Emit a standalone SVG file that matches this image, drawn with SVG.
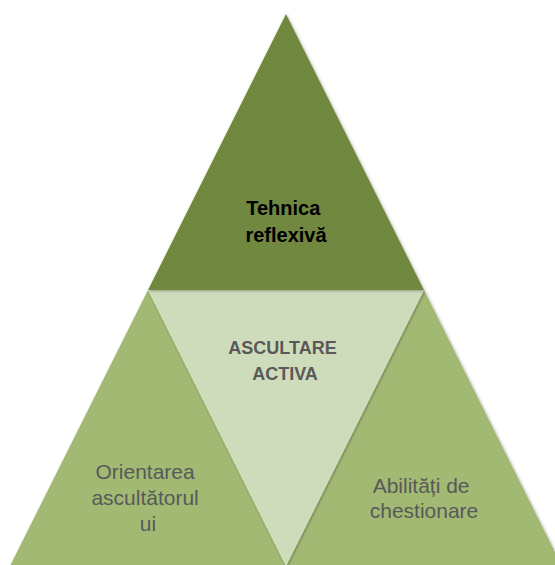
<svg xmlns="http://www.w3.org/2000/svg" width="555" height="565" viewBox="0 0 555 565">
  <defs>
    <filter id="soft" x="-10%" y="-10%" width="120%" height="120%">
      <feDropShadow dx="1" dy="1" stdDeviation="1.5" flood-color="#000" flood-opacity="0.3"/>
    </filter>
  </defs>
  <style>
    .tri { filter: url(#soft); }
    .top { fill: #71883F; }
    .mid { fill: #CFDCBC; }
    .side { fill: #A1B973; }
    .lbl { font-family: "Liberation Sans", Arial, sans-serif; text-anchor: middle; }
    .bold { font-weight: bold; }
  </style>
  <rect width="555" height="565" fill="#ffffff"/>

  <!-- outer corner pieces -->
  <g id="node-orientarea">
    <polygon class="tri side" points="148,290 10,566 286,566"/>
    <text class="lbl" font-size="21" fill="#595959">
      <tspan x="148" y="479">Orientarea</tspan>
      <tspan x="148" y="505">ascultătorul</tspan>
      <tspan x="148" y="531">ui</tspan>
    </text>
  </g>

  <g id="node-abilitati">
    <polygon class="tri side" points="424,290 286,566 562,566"/>
    <text class="lbl" font-size="21" fill="#595959">
      <tspan x="424" y="493">Abilități de</tspan>
      <tspan x="424" y="518">chestionare</tspan>
    </text>
  </g>

  <!-- centre piece -->
  <g id="node-ascultare">
    <polygon class="tri mid" points="148,290 424,290 286,566"/>
    <text class="lbl bold" font-size="18" fill="#595959">
      <tspan x="285" y="354">ASCULTARE</tspan>
      <tspan x="285" y="380">ACTIVA</tspan>
    </text>
  </g>

  <!-- apex piece -->
  <g id="node-tehnica">
    <polygon class="tri top" points="286,14 148,290 424,290"/>
    <text class="lbl bold" font-size="20" fill="#000000">
      <tspan x="286" y="215">Tehnica</tspan>
      <tspan x="286" y="242">reflexivă</tspan>
    </text>
  </g>

  <g id="connectors"/>
</svg>
